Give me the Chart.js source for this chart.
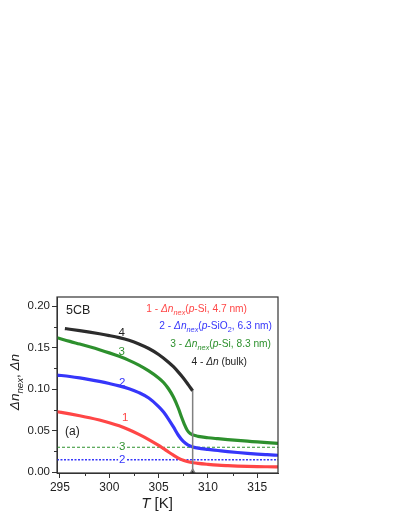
<!DOCTYPE html>
<html>
<head>
<meta charset="utf-8">
<script src="https://cdn.jsdelivr.net/npm/chart.js@4.4.1/dist/chart.umd.min.js"></script>
<style>
  html, body { margin: 0; padding: 0; background: #fff; }
  #wrap { width: 395px; height: 511px; }
</style>
</head>
<body>
<div id="wrap"><canvas id="grafica"></canvas></div>
<script>
// Datos (T en K, birrefringencia)
const T_red = [294.7, 296, 297, 298, 299, 300, 301, 302, 303, 304, 305, 305.5, 306, 306.5, 307, 307.5, 308, 308.5, 309, 310, 311, 312, 313, 314, 315, 316, 317.1];
const dn_red = [0.0728, 0.0702, 0.0680, 0.0656, 0.0628, 0.0596, 0.0558, 0.0510, 0.0455, 0.0393, 0.0322, 0.0283, 0.0243, 0.0205, 0.0170, 0.0143, 0.0125, 0.0113, 0.0105, 0.0094, 0.0085, 0.0079, 0.0074, 0.0070, 0.0067, 0.0065, 0.0063];

const T_blue = [294.7, 296, 297, 298, 299, 300, 301, 302, 303, 304, 305, 305.5, 306, 306.5, 307, 307.5, 308, 308.5, 309, 310, 311, 312, 313, 314, 315, 316, 317.1];
const dn_blue = [0.117, 0.1152, 0.1135, 0.1115, 0.1093, 0.1068, 0.1040, 0.1005, 0.0958, 0.0893, 0.0790, 0.0725, 0.0640, 0.0545, 0.0445, 0.0370, 0.0325, 0.0302, 0.0289, 0.0274, 0.0261, 0.0248, 0.0237, 0.0227, 0.0218, 0.0211, 0.0204];

const T_green = [294.7, 296, 297, 298, 299, 300, 301, 302, 303, 304, 305, 305.5, 306, 306.5, 307, 307.3, 307.6, 307.9, 308.2, 308.5, 309, 310, 311, 312, 313, 314, 315, 316, 317.1];
const dn_green = [0.162, 0.1575, 0.1543, 0.1510, 0.1475, 0.1437, 0.1395, 0.1347, 0.1290, 0.1220, 0.1135, 0.1080, 0.1005, 0.0905, 0.0770, 0.0670, 0.0580, 0.0505, 0.0465, 0.0447, 0.0432, 0.0415, 0.0403, 0.0392, 0.0382, 0.0373, 0.0364, 0.0355, 0.0346];

const T_bulk = [295.5, 296, 297, 298, 299, 300, 301, 302, 303, 304, 305, 306, 306.5, 307, 307.5, 308, 308.45];
const dn_bulk = [0.173, 0.1722, 0.1705, 0.1687, 0.1667, 0.1645, 0.1620, 0.1588, 0.1545, 0.1490, 0.1418, 0.1325, 0.1270, 0.1205, 0.1135, 0.1055, 0.098];

// salto del bulk en T_NI
const T_jump = [308.45, 308.45];
const dn_jump = [0.098, 0];

// niveles horizontales (lineas de trazos)
const T_range = [294.7, 317.1];
const level3 = [0.030, 0.030];
const level2 = [0.015, 0.015];

const xTicks = [295, 300, 305, 310, 315];
const xMinor = [297.5, 302.5, 307.5, 312.5];
const yTicks = [0.00, 0.05, 0.10, 0.15, 0.20];
const yMinor = [0.025, 0.075, 0.125, 0.175];

const RED = '#ff4646';
const BLUE = '#3636fa';
const GREEN = '#2d902d';
const BLACK = '#222222';
const FONT = '"Liberation Sans", Arial, sans-serif';

const pts = (xs, ys) => xs.map((x, i) => ({ x: x, y: ys[i] }));

// texto con cursiva y subindices
function drawRich(ctx, segs, x, y, size, color, align) {
  const fontOf = (s) => {
    const sub = s.sub ? 0.72 : 1;
    return (s.it ? 'italic ' : '') + (size * sub).toFixed(1) + 'px ' + FONT;
  };
  let w = 0;
  segs.forEach((s) => { ctx.font = fontOf(s); w += ctx.measureText(s.t).width; });
  let cx = align === 'right' ? x - w : align === 'center' ? x - w / 2 : x;
  ctx.fillStyle = color;
  ctx.textAlign = 'left';
  ctx.textBaseline = 'alphabetic';
  segs.forEach((s) => {
    ctx.font = fontOf(s);
    ctx.fillText(s.t, cx, y + (s.sub ? size * 0.3 : 0));
    cx += ctx.measureText(s.t).width;
  });
}

const legendRows = [
  { color: RED, right: 247, base: 311.5, segs: [{ t: '1 - ' }, { t: 'Δn', it: 1 }, { t: 'nex', it: 1, sub: 1 }, { t: '(' }, { t: 'p', it: 1 }, { t: '-Si, 4.7 nm)' }] },
  { color: BLUE, right: 272, base: 329, segs: [{ t: '2 - ' }, { t: 'Δn', it: 1 }, { t: 'nex', it: 1, sub: 1 }, { t: '(' }, { t: 'p', it: 1 }, { t: '-SiO' }, { t: '2', sub: 1 }, { t: ', 6.3 nm)' }] },
  { color: GREEN, right: 271, base: 346.5, segs: [{ t: '3 - ' }, { t: 'Δn', it: 1 }, { t: 'nex', it: 1, sub: 1 }, { t: '(' }, { t: 'p', it: 1 }, { t: '-Si, 8.3 nm)' }] },
  { color: BLACK, right: 247, base: 364.5, segs: [{ t: '4 - ' }, { t: 'Δn', it: 1 }, { t: ' (bulk)' }] },
];

// etiquetas sobre las curvas (en coordenadas de datos)
const curveLabels = [
  { t: '4', x: 301.25, y: 0.168, c: BLACK, bg: false },
  { t: '3', x: 301.25, y: 0.145, c: GREEN, bg: false },
  { t: '2', x: 301.3, y: 0.108, c: BLUE, bg: false },
  { t: '1', x: 301.6, y: 0.065, c: RED, bg: false },
  { t: '3', x: 301.3, y: 0.030, c: GREEN, bg: true },
  { t: '2', x: 301.3, y: 0.015, c: BLUE, bg: true },
];

const decor = {
  id: 'decor',
  afterDraw(chart) {
    const ctx = chart.ctx;
    const a = chart.chartArea;
    const xs = chart.scales.x;
    const ys = chart.scales.y;
    ctx.save();
    // marco
    ctx.strokeStyle = '#333';
    ctx.lineWidth = 1.2;
    ctx.strokeRect(a.left, a.top, a.right - a.left, a.bottom - a.top);
    // marcas menores
    ctx.lineWidth = 1;
    ctx.beginPath();
    yMinor.forEach((v) => {
      const p = Math.round(ys.getPixelForValue(v)) + 0.5;
      ctx.moveTo(a.left - 3, p); ctx.lineTo(a.left, p);
    });
    xMinor.forEach((v) => {
      const p = Math.round(xs.getPixelForValue(v)) + 0.5;
      ctx.moveTo(p, a.bottom); ctx.lineTo(p, a.bottom + 3);
    });
    ctx.stroke();

    // etiquetas de curvas
    ctx.font = '11.5px ' + FONT;
    ctx.textAlign = 'center';
    ctx.textBaseline = 'middle';
    curveLabels.forEach((l) => {
      const px = xs.getPixelForValue(l.x);
      const py = ys.getPixelForValue(l.y);
      if (l.bg) {
        ctx.fillStyle = '#fff';
        ctx.fillRect(px - 4, py - 4, 8, 8);
      }
      ctx.fillStyle = l.c;
      ctx.fillText(l.t, px, py);
    });

    // leyenda
    legendRows.forEach((r) => drawRich(ctx, r.segs, r.right, r.base, 10.2, r.color, 'right'));
    ctx.fillStyle = BLACK;
    ctx.textAlign = 'left';
    ctx.textBaseline = 'alphabetic';
    ctx.font = '12.5px ' + FONT;
    ctx.fillText('5CB', 66, 314);
    ctx.font = '12px ' + FONT;
    ctx.fillText('(a)', 65, 435);

    // titulos de ejes
    drawRich(ctx, [{ t: 'T', it: 1 }, { t: ' [K]' }], 157, 508, 15, BLACK, 'center');
    ctx.translate(18.5, (a.top + a.bottom) / 2 - 3);
    ctx.rotate(-Math.PI / 2);
    drawRich(ctx, [{ t: 'Δn', it: 1 }, { t: 'nex', it: 1, sub: 1 }, { t: ', ' }, { t: 'Δn', it: 1 }], 0, 0, 13.5, BLACK, 'center');
    ctx.restore();
  },
};

const curve = (data, color, order) => ({
  data: data,
  borderColor: color,
  backgroundColor: color,
  borderWidth: 3.2,
  showLine: true,
  pointRadius: 0,
  cubicInterpolationMode: 'monotone',
  order: order,
});

const ctx = document.getElementById('grafica').getContext('2d');

new Chart(ctx, {
  type: 'scatter',
  data: {
    datasets: [
      {
        data: pts(T_jump, dn_jump),
        borderColor: '#808080',
        backgroundColor: BLACK,
        borderWidth: 1.5,
        showLine: true,
        pointRadius: [0, 3],
        pointStyle: 'triangle',
        order: -1,
      },
      curve(pts(T_bulk, dn_bulk), '#2c2c2c', 0),
      curve(pts(T_green, dn_green), GREEN, 1),
      curve(pts(T_blue, dn_blue), BLUE, 2),
      curve(pts(T_red, dn_red), RED, 3),
      {
        data: pts(T_range, level3),
        borderColor: GREEN,
        borderWidth: 1,
        borderDash: [3, 2],
        showLine: true,
        pointRadius: 0,
        order: 5,
      },
      {
        data: pts(T_range, level2),
        borderColor: BLUE,
        borderWidth: 1.5,
        borderDash: [2, 1.5],
        showLine: true,
        pointRadius: 0,
        order: 5,
      },
    ],
  },
  options: {
    responsive: true,
    maintainAspectRatio: false,
    animation: false,
    layout: { padding: { top: 297, right: 117, bottom: 0, left: 0 } },
    plugins: {
      legend: { display: false },
      tooltip: { enabled: false },
    },
    scales: {
      x: {
        type: 'linear',
        min: 294.7,
        max: 317.1,
        afterFit: (s) => { s.height = 38; },
        afterBuildTicks: (s) => { s.ticks = xTicks.map((v) => ({ value: v })); },
        grid: { drawOnChartArea: false, drawTicks: true, tickLength: 5, color: '#333' },
        border: { display: true, color: '#333', width: 1 },
        ticks: {
          color: '#222',
          padding: 2,
          maxRotation: 0,
          font: { family: FONT, size: 12 },
          callback: (v) => String(v),
        },
      },
      y: {
        type: 'linear',
        min: -0.001,
        max: 0.211,
        afterFit: (s) => { s.width = 57; },
        afterBuildTicks: (s) => { s.ticks = yTicks.map((v) => ({ value: v })); },
        grid: { drawOnChartArea: false, drawTicks: true, tickLength: 5, color: '#333' },
        border: { display: true, color: '#333', width: 1 },
        ticks: {
          color: '#222',
          padding: 2,
          font: { family: FONT, size: 11.5 },
          callback: (v) => v.toFixed(2),
        },
      },
    },
  },
  plugins: [decor],
});
</script>
</body>
</html>
